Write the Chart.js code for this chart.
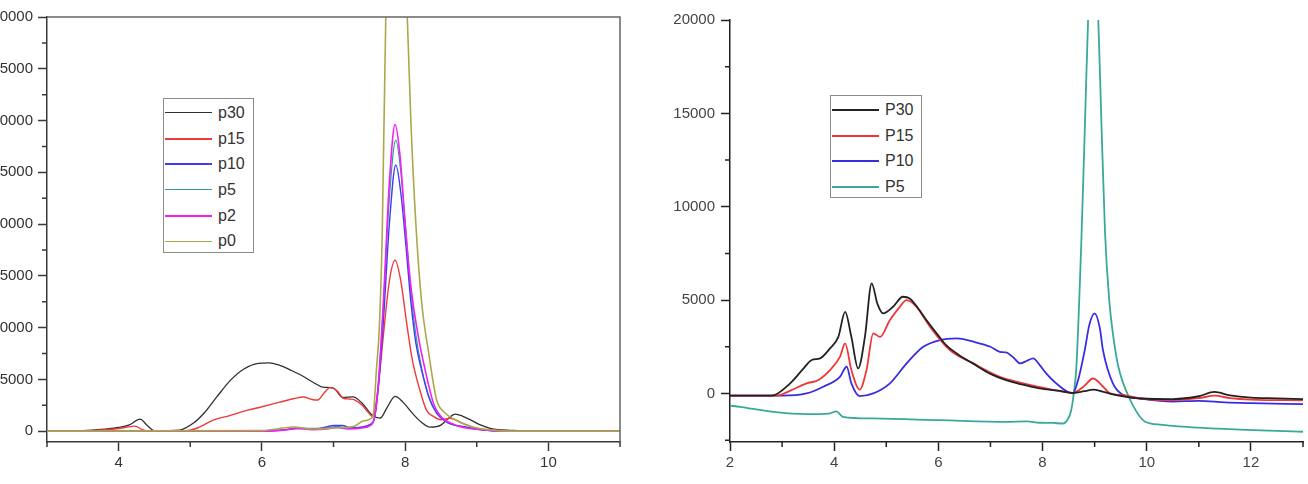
<!DOCTYPE html>
<html lang="en">
<head>
    <meta charset="UTF-8">
    <title>Chromatogram comparison</title>
    <script src="https://cdn.jsdelivr.net/npm/chart.js"></script>
    <style>
        body {
            margin: 0;
            width: 1308px;
            height: 484px;
            overflow: hidden;
            position: relative;
            background: #fff;
            font-family: "Liberation Sans", Arial, sans-serif;
        }
        .chart-box { position: absolute; top: 0; height: 484px; }
        #leftBox { left: 0; width: 650px; }
        #rightBox { left: 630px; width: 678px; }
        .legend {
            position: absolute;
            background: #fff;
            border: 1.5px solid #8c8c8c;
            box-sizing: border-box;
            padding: 1px 0 0 1px;
        }
        #leftLegend { left: 163px; top: 98px; width: 91px; height: 155px; }
        #rightLegend { left: 830px; top: 95px; width: 92px; height: 103px; }
        .legend-row { display: flex; align-items: center; height: 25.7px; font-size: 16px; color: #333; }
        .legend-line { display: inline-block; width: 47px; height: 0; margin-right: 6px; }
    </style>
</head>
<body>

<div class="chart-box" id="leftBox"><canvas id="leftChart"></canvas></div>
<div class="chart-box" id="rightBox"><canvas id="rightChart"></canvas></div>
<div class="legend" id="leftLegend"></div>
<div class="legend" id="rightLegend"></div>

<script>
    // tick values (labelled ticks; the short unlabelled ones sit halfway between)
    const leftXTicks = [4, 6, 8, 10];
    const leftYTicks = [0, 5000, 10000, 15000, 20000, 25000, 30000, 35000, 40000];
    const rightXTicks = [2, 4, 6, 8, 10, 12];
    const rightYTicks = [0, 5000, 10000, 15000, 20000];

    // ---- left panel (p30 ... p0) ----
    const leftX_p30 = [3.0, 3.5, 3.8, 4.0, 4.15, 4.3, 4.4, 4.5, 4.85, 5.05, 5.2, 5.37, 5.56, 5.75, 5.95, 6.1, 6.25, 6.4, 6.55, 6.72, 6.85, 7.0, 7.13, 7.27, 7.4, 7.54, 7.65, 7.75, 7.86, 7.97, 8.1, 8.22, 8.35, 8.5, 8.6, 8.7, 8.8, 8.92, 9.05, 9.2, 9.5, 9.8, 11.0];
    const leftY_p30 = [0, 50, 200, 350, 600, 1160, 550, 30, 100, 800, 1800, 3300, 4900, 6000, 6550, 6600, 6350, 5900, 5400, 4700, 4250, 4150, 3250, 3300, 2700, 1550, 1250, 2300, 3350, 2800, 1740, 900, 390, 580, 1200, 1640, 1450, 1060, 600, 250, 80, 0, 0];

    const leftX_p15 = [3.0, 3.6, 4.0, 4.12, 4.23, 4.33, 4.45, 4.9, 5.1, 5.32, 5.55, 5.79, 6.0, 6.25, 6.45, 6.58, 6.7, 6.78, 6.87, 6.95, 7.05, 7.13, 7.22, 7.3, 7.4, 7.48, 7.55, 7.62, 7.7, 7.78, 7.86, 7.94, 8.02, 8.1, 8.2, 8.3, 8.4, 8.5, 8.63, 8.8, 9.0, 9.3, 9.6, 11.0];
    const leftY_p15 = [0, 50, 250, 400, 480, 150, 0, 0, 300, 1060, 1500, 2000, 2350, 2800, 3150, 3300, 3050, 3000, 3700, 4200, 3900, 3200, 3100, 3000, 2500, 1840, 1400, 4000, 9500, 14500, 16500, 14500, 10500, 6900, 4100, 2000, 1400, 1100, 1250, 770, 290, 50, 0, 0];

    const leftX_p10 = [3.0, 6.0, 6.3, 6.5, 6.7, 6.9, 7.0, 7.12, 7.25, 7.4, 7.5, 7.57, 7.63, 7.7, 7.78, 7.87, 7.94, 8.01, 8.08, 8.15, 8.23, 8.33, 8.44, 8.6, 8.86, 9.1, 9.4, 11.0];
    const leftY_p10 = [0, 0, 100, 300, 200, 400, 550, 550, 300, 400, 600, 1200, 4500, 11000, 20000, 25700, 23000, 18000, 12500, 8500, 5900, 3300, 1740, 800, 390, 100, 0, 0];

    const leftX_p5 = [3.0, 6.0, 6.5, 6.9, 7.05, 7.2, 7.4, 7.5, 7.57, 7.63, 7.7, 7.78, 7.87, 7.94, 8.01, 8.08, 8.15, 8.23, 8.33, 8.44, 8.6, 8.86, 9.1, 9.4, 11.0];
    const leftY_p5 = [0, 0, 250, 300, 450, 300, 350, 600, 1200, 5000, 12500, 22500, 28100, 25000, 19500, 13500, 9300, 6100, 3400, 1750, 800, 350, 100, 0, 0];

    const leftX_p2 = [3.0, 6.0, 6.3, 6.5, 6.7, 6.9, 7.05, 7.2, 7.4, 7.5, 7.56, 7.62, 7.7, 7.78, 7.86, 7.93, 8.0, 8.08, 8.18, 8.28, 8.4, 8.5, 8.7, 8.9, 9.2, 9.5, 11.0];
    const leftY_p2 = [0, 0, 100, 250, 150, 200, 350, 200, 300, 500, 1000, 4000, 13000, 24000, 29600, 26500, 20000, 14000, 9300, 5900, 2600, 1400, 600, 250, 50, 0, 0];

    const leftX_p0 = [3.0, 6.0, 6.45, 6.7, 7.0, 7.3, 7.42, 7.55, 7.6, 7.64, 7.68, 7.73, 7.8, 7.88, 7.96, 8.03, 8.08, 8.15, 8.23, 8.33, 8.44, 8.55, 8.7, 8.85, 9.0, 9.3, 9.6, 11.0];
    const leftY_p0 = [0, 50, 400, 200, 300, 500, 1000, 1400, 6000, 10000, 19000, 40000, 52000, 56000, 50000, 40000, 30000, 20000, 12500, 7500, 3000, 1800, 1100, 600, 300, 50, 0, 0];

    // ---- right panel (P30 ... P5) ----
    const rightX_P30 = [2.0, 2.8, 3.15, 3.4, 3.57, 3.73, 3.92, 4.08, 4.21, 4.33, 4.46, 4.59, 4.72, 4.83, 4.94, 5.13, 5.32, 5.45, 5.6, 5.77, 6.0, 6.15, 6.4, 6.66, 7.0, 7.3, 7.6, 7.94, 8.3, 8.6, 8.8, 8.97, 9.15, 9.35, 9.55, 9.9, 10.5, 11.0, 11.3, 11.6, 12.0, 12.5, 13.0];
    const rightY_P30 = [-120, -120, 530, 1300, 1790, 1880, 2410, 3030, 4370, 3030, 1340, 3030, 5900, 4800, 4290, 4640, 5180, 5090, 4600, 3930, 3100, 2590, 2050, 1610, 1050, 710, 480, 270, 150, 30, 120, 200, 100, -50, -150, -270, -300, -150, 80, -100, -220, -260, -300];

    const rightX_P15 = [2.0, 2.9, 3.15, 3.47, 3.69, 3.92, 4.11, 4.21, 4.33, 4.49, 4.62, 4.75, 4.88, 5.07, 5.26, 5.39, 5.58, 5.84, 6.22, 6.67, 7.18, 7.63, 8.07, 8.58, 8.8, 8.97, 9.15, 9.3, 9.55, 9.9, 10.5, 11.0, 11.3, 11.6, 12.0, 13.0];
    const rightY_P15 = [-120, -120, 140, 540, 710, 1250, 1960, 2680, 1250, 210, 1250, 3220, 3030, 3930, 4640, 5000, 4640, 3570, 2320, 1610, 890, 540, 270, 30, 400, 800, 400, 0, -90, -270, -350, -250, -120, -250, -330, -370];

    const rightX_P10 = [2.0, 3.0, 3.47, 3.79, 4.11, 4.24, 4.33, 4.49, 4.75, 5.07, 5.39, 5.71, 6.03, 6.35, 6.67, 7.0, 7.18, 7.3, 7.45, 7.57, 7.7, 7.82, 7.95, 8.07, 8.3, 8.58, 8.7, 8.81, 8.9, 9.0, 9.1, 9.16, 9.35, 9.55, 9.87, 10.5, 11.0, 11.5, 12.0, 13.0];
    const rightY_P10 = [-120, -120, 0, 360, 890, 1430, 540, -145, 0, 540, 1610, 2500, 2860, 2950, 2770, 2500, 2230, 2200, 1900, 1610, 1750, 1880, 1500, 1070, 450, 0, 900, 2320, 3700, 4290, 3500, 2320, 540, -90, -270, -430, -400, -480, -520, -570];

    const rightX_P5 = [2.0, 2.19, 2.83, 3.47, 3.9, 4.04, 4.17, 4.75, 6.03, 7.3, 7.7, 7.94, 8.2, 8.39, 8.5, 8.55, 8.6, 8.65, 8.75, 8.82, 8.88, 8.97, 9.07, 9.13, 9.2, 9.28, 9.35, 9.45, 9.55, 9.65, 9.75, 9.87, 9.96, 10.3, 10.6, 11.5, 13.0];
    const rightY_P5 = [-650, -720, -990, -1110, -1080, -960, -1250, -1340, -1430, -1520, -1500, -1570, -1580, -1610, -1300, -900, 0, 1430, 8580, 15000, 20500, 24000, 20000, 14500, 8580, 5000, 3220, 1500, 540, -150, -720, -1250, -1500, -1680, -1760, -1900, -2050];

    function toPoints(xs, ys) {
        return xs.map((x, i) => ({ x: x, y: ys[i] }));
    }

    // short in-between ticks, placed through the chart scales
    const minorTicks = {
        id: 'minorTicks',
        afterDraw(chart, args, opts) {
            const ctx = chart.ctx;
            const area = chart.chartArea;
            const xs = chart.scales.x, ys = chart.scales.y;
            ctx.save();
            ctx.strokeStyle = opts.color;
            ctx.lineWidth = opts.width;
            ctx.beginPath();
            for (let v = Math.ceil(xs.min / opts.xStep) * opts.xStep; v <= xs.max + 1e-9; v += opts.xStep) {
                if (Math.abs(v / opts.xMajor - Math.round(v / opts.xMajor)) < 1e-6) continue;
                const px = xs.getPixelForValue(v);
                ctx.moveTo(px, area.bottom);
                ctx.lineTo(px, area.bottom + opts.length);
            }
            for (let v = Math.ceil(ys.min / opts.yStep) * opts.yStep; v <= ys.max + 1e-9; v += opts.yStep) {
                if (Math.abs(v / opts.yMajor - Math.round(v / opts.yMajor)) < 1e-6) continue;
                const py = ys.getPixelForValue(v);
                ctx.moveTo(area.left, py);
                ctx.lineTo(area.left - opts.length, py);
            }
            ctx.stroke();
            ctx.restore();
        }
    };

    // top and right edges of the plot frame (left panel only)
    const frame = {
        id: 'frame',
        afterDraw(chart, args, opts) {
            if (!opts.show) return;
            const ctx = chart.ctx;
            const a = chart.chartArea;
            ctx.save();
            ctx.strokeStyle = opts.color;
            ctx.lineWidth = opts.width;
            ctx.beginPath();
            ctx.moveTo(a.left, a.top);
            ctx.lineTo(a.right, a.top);
            ctx.lineTo(a.right, a.bottom);
            ctx.stroke();
            ctx.restore();
        }
    };

    function createChart(canvasId, datasets, cfg) {
        const tickFont = { family: '"Liberation Sans", Arial, sans-serif', size: 15 };
        return new Chart(document.getElementById(canvasId), {
            type: 'line',
            data: { datasets: datasets },
            options: {
                responsive: true,
                maintainAspectRatio: false,
                animation: false,
                events: [],
                layout: { padding: cfg.padding },
                elements: {
                    point: { radius: 0 },
                    line: { cubicInterpolationMode: 'monotone' }
                },
                scales: {
                    x: {
                        type: 'linear',
                        min: cfg.xMin,
                        max: cfg.xMax,
                        afterBuildTicks: s => { s.ticks = cfg.xTicks.map(v => ({ value: v })); },
                        afterFit: s => { s.height = 42; },
                        ticks: { color: cfg.labelColor, font: tickFont, padding: 3, maxRotation: 0, autoSkip: false, callback: v => String(v) },
                        grid: { drawOnChartArea: false, tickLength: 9, tickColor: cfg.axisColor, tickWidth: 1.5 },
                        border: { color: cfg.axisColor, width: 1.5 }
                    },
                    y: {
                        type: 'linear',
                        min: cfg.yMin,
                        max: cfg.yMax,
                        afterBuildTicks: s => { s.ticks = cfg.yTicks.map(v => ({ value: v })); },
                        afterFit: s => { s.width = cfg.yWidth; },
                        ticks: { color: cfg.labelColor, font: tickFont, padding: cfg.yPad, autoSkip: false, callback: v => String(v) },
                        grid: { drawOnChartArea: false, tickLength: 9, tickColor: cfg.axisColor, tickWidth: 1.5 },
                        border: { color: cfg.axisColor, width: 1.5 }
                    }
                },
                plugins: {
                    legend: { display: false },
                    tooltip: { enabled: false },
                    minorTicks: { xStep: 1, xMajor: 2, yStep: 2500, yMajor: 5000, length: 5, color: cfg.axisColor, width: 1.5 },
                    frame: { show: cfg.frame, color: '#666', width: 1.5 }
                }
            },
            plugins: [minorTicks, frame]
        });
    }

    function line(label, xs, ys, color, width, order, legendWidth) {
        return {
            label: label,
            data: toPoints(xs, ys),
            borderColor: color,
            borderWidth: width,
            fill: false,
            order: order,
            legendWidth: legendWidth
        };
    }

    function buildLegend(chart, boxId) {
        const box = document.getElementById(boxId);
        chart.data.datasets.forEach(ds => {
            const row = document.createElement('div');
            row.className = 'legend-row';
            const mark = document.createElement('span');
            mark.className = 'legend-line';
            mark.style.borderTop = ds.legendWidth + 'px solid ' + ds.borderColor;
            const txt = document.createElement('span');
            txt.textContent = ds.label;
            row.append(mark, txt);
            box.appendChild(row);
        });
    }

    const leftChart = createChart('leftChart', [
        line('p30', leftX_p30, leftY_p30, '#303030', 1.3, 5, 1.2),
        line('p15', leftX_p15, leftY_p15, '#f03a3a', 1.4, 4, 2.5),
        line('p10', leftX_p10, leftY_p10, '#3e3ef0', 1.4, 2, 2.5),
        line('p5', leftX_p5, leftY_p5, '#2f9f96', 1.2, 3, 1.2),
        line('p2', leftX_p2, leftY_p2, '#f020f0', 1.6, 1, 2.5),
        line('p0', leftX_p0, leftY_p0, '#a9a94c', 1.6, 0, 1.5)
    ], {
        xMin: 3, xMax: 11, yMin: -1050, yMax: 40000,
        xTicks: leftXTicks, yTicks: leftYTicks,
        yWidth: 47, yPad: 5,
        padding: { top: 17, right: 30, left: 0, bottom: 0 },
        axisColor: '#3a3a3a', labelColor: '#333', frame: true
    });

    const rightChart = createChart('rightChart', [
        line('P30', rightX_P30, rightY_P30, '#222222', 1.8, 0, 2),
        line('P15', rightX_P15, rightY_P15, '#ee3838', 1.8, 1, 2),
        line('P10', rightX_P10, rightY_P10, '#3a2de0', 1.8, 2, 2.5),
        line('P5', rightX_P5, rightY_P5, '#3aa89a', 1.8, 3, 2.5)
    ], {
        xMin: 2, xMax: 13, yMin: -2600, yMax: 20000,
        xTicks: rightXTicks, yTicks: rightYTicks,
        yWidth: 100, yPad: 6,
        padding: { top: 20, right: 5, left: 0, bottom: 0 },
        axisColor: '#222', labelColor: '#444', frame: false
    });

    buildLegend(leftChart, 'leftLegend');
    buildLegend(rightChart, 'rightLegend');
</script>
</body>
</html>
